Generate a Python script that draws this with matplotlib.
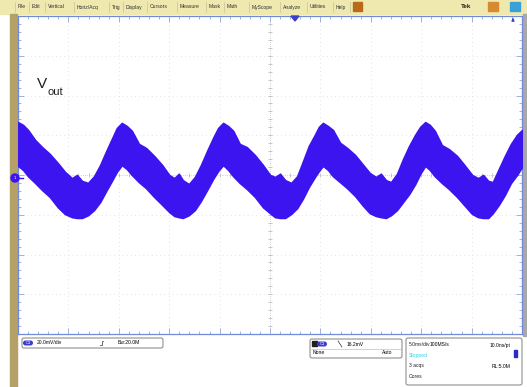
import numpy as np
import matplotlib.pyplot as plt
from matplotlib.patches import Rectangle, FancyBboxPatch, Circle, Polygon

plt.rcParams['font.family'] = ['Liberation Sans', 'DejaVu Sans']

# Vout trace envelope
# x: horizontal divisions (5.0 ms/div), y: vertical divisions (20.0 mV/div)
t_div = [-5.00, -4.90, -4.80, -4.66, -4.52, -4.37, -4.21, -4.07, -3.93, -3.83, -3.73, -3.61, -3.49, -3.37, -3.25, -3.13, -3.04,
         -2.94, -2.84, -2.74, -2.60, -2.46, -2.30, -2.14, -2.00, -1.90, -1.81, -1.73, -1.61, -1.49, -1.37, -1.25, -1.13, -1.03,
         -0.93, -0.83, -0.73, -0.60, -0.46, -0.30, -0.14, 0.00, 0.10, 0.20, 0.30, 0.42, 0.54, 0.65, 0.77, 0.89, 0.97,
         1.05, 1.15, 1.25, 1.39, 1.53, 1.69, 1.85, 1.98, 2.10, 2.20, 2.30, 2.40, 2.52, 2.64, 2.76, 2.88, 2.98,
         3.08, 3.17, 3.27, 3.41, 3.55, 3.71, 3.87, 4.01, 4.13, 4.23, 4.33, 4.42, 4.54, 4.66, 4.78, 4.90, 5.00]
v_top = [1.33, 1.26, 1.13, 0.88, 0.70, 0.53, 0.30, 0.08, -0.08, 0.00, -0.15, -0.20, -0.03, 0.25, 0.60, 0.93, 1.18,
         1.31, 1.23, 1.11, 0.78, 0.68, 0.48, 0.25, 0.00, -0.08, 0.03, -0.13, -0.23, -0.05, 0.25, 0.60, 0.93, 1.18,
         1.31, 1.23, 1.11, 0.78, 0.70, 0.50, 0.25, 0.00, -0.05, 0.03, -0.13, -0.20, -0.03, 0.33, 0.73, 1.01, 1.21,
         1.31, 1.23, 1.13, 0.81, 0.68, 0.50, 0.25, 0.05, -0.05, 0.03, -0.13, -0.18, 0.03, 0.40, 0.73, 1.01, 1.21,
         1.33, 1.26, 1.11, 0.75, 0.65, 0.48, 0.23, 0.00, -0.08, 0.00, -0.15, -0.18, 0.15, 0.48, 0.78, 1.01, 1.13]
v_bot = [0.23, 0.13, -0.03, -0.20, -0.38, -0.55, -0.81, -0.98, -1.06, -1.08, -1.08, -1.01, -0.88, -0.68, -0.40, -0.13, 0.08,
         0.25, 0.15, 0.00, -0.18, -0.33, -0.55, -0.75, -0.93, -1.03, -1.06, -1.08, -1.01, -0.88, -0.65, -0.38, -0.10, 0.10,
         0.25, 0.13, -0.03, -0.20, -0.35, -0.55, -0.81, -0.96, -1.06, -1.08, -1.08, -0.98, -0.83, -0.60, -0.30, -0.05, 0.10,
         0.23, 0.13, -0.03, -0.18, -0.33, -0.53, -0.78, -0.96, -1.03, -1.06, -1.08, -1.01, -0.88, -0.68, -0.48, -0.23, 0.03,
         0.23, 0.13, -0.03, -0.20, -0.35, -0.55, -0.78, -0.98, -1.06, -1.08, -1.08, -0.96, -0.75, -0.50, -0.20, 0.00, 0.20]

menu_items = ["File", "Edit", "Vertical", "Horiz/Acq", "Trig", "Display", "Cursors", "Measure",
              "Mask", "Math", "MyScope", "Analyze", "Utilities", "Help"]
menu_x = [18, 32, 48, 77, 112, 126, 150, 180, 209, 227, 252, 283, 310, 336]

ch1_label = "20.0mV/div"
bw_label = "Bw:20.0M"
trig_level = "16.2mV"
horiz_lines = [("5.0ms/div", "100MS/s", "10.0ns/pt"), ("Stopped", "", ""), ("3 acqs", "", "RL:5.0M"), ("Cores", "", "")]

W, H = 527, 387
trace_col = '#3c14f0'
fig = plt.figure(figsize=(W / 100, H / 100), dpi=100)

# screen chrome in pixel coordinates
bg = fig.add_axes([0, 0, 1, 1])
bg.set_xlim(0, W)
bg.set_ylim(H, 0)
bg.axis('off')
bg.add_patch(Rectangle((0, 0), W, 14, color='#efe9b0'))
bg.add_patch(Rectangle((10, 14), 7, H - 14, color='#b5a068'))
bg.add_patch(Rectangle((523, 14), 4, 322, color='#a8a8a8'))
for name, x in zip(menu_items, menu_x):
    bg.text(x, 7, name, fontsize=3.6, va='center', color='#303030')
    bg.plot([x - 3, x - 3], [2, 12], color='#c8c098', lw=0.5)
bg.plot([350, 350], [2, 12], color='#c8c098', lw=0.5)
bg.add_patch(Rectangle((353, 2), 9, 9, color='#b86a18'))
bg.text(466, 7, "Tek", fontsize=4.5, fontweight='bold', va='center', ha='center', color='#202020')
bg.add_patch(Rectangle((488, 2), 10, 9, color='#d88a30'))
bg.add_patch(Rectangle((510, 2), 10, 9, color='#3aa0d8'))

# bottom readout boxes
def box(x0, y0, x1, y1):
    bg.add_patch(FancyBboxPatch((x0, y0), x1 - x0, y1 - y0, boxstyle='round,pad=0,rounding_size=2',
                                fc='white', ec='#909090', lw=0.8))

def pill(x, y, txt):
    bg.add_patch(FancyBboxPatch((x, y - 2.5), 10, 5, boxstyle='round,pad=0,rounding_size=2.5',
                                fc='#3c3cd0', ec='none'))
    bg.text(x + 5, y, txt, fontsize=3, color='white', ha='center', va='center')

box(22, 338, 163, 348)
pill(23, 343, "C1")
bg.text(37, 343, ch1_label, fontsize=3.6, va='center')
bg.plot([100, 101.5, 101.5, 103], [345, 345, 341, 341], color='#303030', lw=0.5)
bg.text(118, 343, bw_label, fontsize=3.6, va='center')

box(310, 339, 402, 358)
bg.add_patch(Rectangle((312, 341), 4.5, 5, color='#202020'))
pill(317, 344, "C1")
bg.plot([338, 342], [341, 347], color='#303030', lw=0.5)
bg.text(347, 344, trig_level, fontsize=3.6, va='center')
bg.plot([311, 401], [349, 349], color='#b0b0b0', lw=0.4)
bg.text(313, 353, "None", fontsize=3.6, va='center')
bg.text(392, 353, "Auto", fontsize=3.6, va='center', ha='right')

box(406, 338, 522, 385)
for i, (a, b, c) in enumerate(horiz_lines):
    y = 345 + i * 10.5
    bg.text(409, y, a, fontsize=3.6, va='center', color='#33d0e8' if a == "Stopped" else '#202020')
    bg.text(430, y, b, fontsize=3.6, va='center')
    bg.text(510, y, c, fontsize=3.6, va='center', ha='right')
bg.add_patch(Rectangle((514, 350), 2.5, 7, color='#2a2ad0'))

# graticule and trace
ax = fig.add_axes([18 / W, 1 - 334 / H, 504 / W, 318 / H])
ax.set_xlim(-5, 5)
ax.set_ylim(-4, 4)
ax.set_xticks(np.arange(-5, 6, 1))
ax.set_yticks(np.arange(-4, 5, 1))
ax.set_xticks(np.arange(-5, 5.01, 0.2), minor=True)
ax.set_yticks(np.arange(-4, 4.01, 0.2), minor=True)
ax.tick_params(which='both', direction='in', top=True, right=True, labelbottom=False, labelleft=False,
               color='#8fa6d8', width=0.6)
ax.tick_params(which='major', length=4)
ax.tick_params(which='minor', length=2)
ax.grid(True, which='major', ls=(0, (1, 4)), color='#dadada', lw=0.6)
for s in ax.spines.values():
    s.set_color('#6f8ad8')
    s.set_linewidth(0.9)
xt = np.arange(-5, 5.01, 0.2)
yt = np.arange(-4, 4.01, 0.2)
ax.axhline(0, ls=(0, (1, 2)), color='#b8b8b8', lw=0.5)
ax.axvline(0, ls=(0, (1, 2)), color='#b8b8b8', lw=0.5)
ax.plot(xt, np.zeros_like(xt), ls='none', marker='|', ms=2.5, mew=0.5, color='#b0b0b0')
ax.plot(np.zeros_like(yt), yt, ls='none', marker='_', ms=2.5, mew=0.5, color='#b0b0b0')
ax.fill_between(t_div, v_bot, v_top, color=trace_col, lw=1.2, ec=trace_col, zorder=3)

# markers on top of the graticule
fg = fig.add_axes([0, 0, 1, 1])
fg.set_xlim(0, W)
fg.set_ylim(H, 0)
fg.axis('off')
fg.patch.set_alpha(0)
fg.add_patch(Circle((15, 178), 4, color=trace_col))
fg.plot([19, 23], [178, 178], color=trace_col, lw=1)
fg.text(15, 178, "1", fontsize=3, color='white', ha='center', va='center')
fg.add_patch(Polygon([[291, 16], [299, 16], [295, 21]], color='#3c3cd0'))
fg.annotate('', xy=(513, 15), xytext=(513, 23), arrowprops=dict(arrowstyle='-|>', color='#3c3cd0', lw=0.8,
                                                                   mutation_scale=4))
fg.text(37, 88, "V", fontsize=11, color='#202020')
fg.text(48, 95, "out", fontsize=8, color='#202020')

fig.savefig('out.png', dpi=100)
